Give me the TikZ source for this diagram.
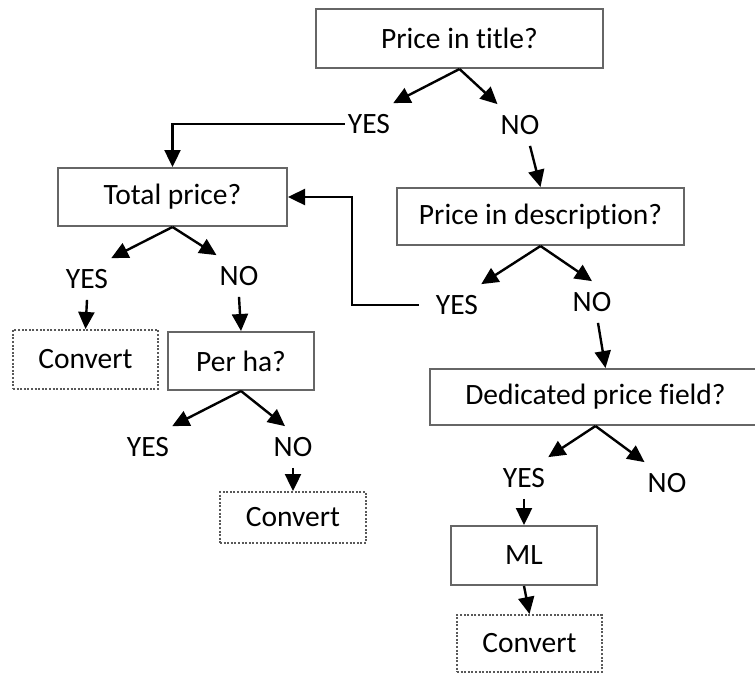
\documentclass[tikz,border=0pt]{standalone}
\usepackage{fontspec}
\setmainfont{Carlito}[Ligatures=NoCommon]
\usetikzlibrary{arrows.meta}
\begin{document}
\begin{tikzpicture}[x=1pt,y=-1pt]
    % Sumbu y dibalik (y=-1pt), posisi dihitung langsung dalam piksel gambar.
    \tikzset{
      every node/.style={font=\fontsize{29.5}{35}\selectfont},
      kotak/.style={draw=black!60,line width=2pt,inner sep=0pt},
      kotaktitik/.style={draw=black!65,line width=2pt,
        dash pattern=on 2pt off 1.6pt,inner sep=0pt},
      jawab/.style={inner xsep=3pt,inner ysep=11pt},
      panah/.style={line width=2.4pt,-{Triangle[length=17pt,width=16pt]}}}
    \useasboundingbox (0,0) rectangle (755,673);
    % Kotak pertanyaan
    \node[kotak,minimum width=287pt,minimum height=59pt] (judul) at (459.5,38.5) {Price in title?};
    \node[kotak,minimum width=229pt,minimum height=58pt] (total) at (172.5,197) {Total price?};
    \node[kotak,minimum width=287pt,minimum height=57pt] (desk) at (540.5,216.5) {Price in description?};
    \node[kotak,minimum width=146pt,minimum height=58pt] (perha) at (241,361) {Per ha?};
    \node[kotak,minimum width=331pt,minimum height=56pt] (kolom) at (595.5,397) {Dedicated price field?};
    \node[kotak,minimum width=146pt,minimum height=59pt] (ml) at (524,555.5) {ML};
    % Kotak hasil (garis titik)
    \node[kotaktitik,minimum width=145pt,minimum height=59pt] (konv1) at (85.5,359.5) {Convert};
    \node[kotaktitik,minimum width=146pt,minimum height=51pt] (konv2) at (293,517.5) {Convert};
    \node[kotaktitik,minimum width=145pt,minimum height=57pt] (konv3) at (529.5,643.5) {Convert};
    % Jawaban
    \node[jawab] (ya1) at (369,124) {YES};
    \node[jawab] (tidak1) at (520,125) {NO};
    \node[jawab] (ya2) at (457,305) {YES};
    \node[jawab] (tidak2) at (592,302) {NO};
    \node[jawab] (ya3) at (87,279) {YES};
    \node[jawab] (tidak3) at (239,276) {NO};
    \node[jawab] (ya4) at (148,447) {YES};
    \node[jawab] (tidak4) at (293,447) {NO};
    \node[jawab] (ya5) at (524,478) {YES};
    \node[jawab] (tidak5) at (667,483) {NO};
    % Cabang dari tiap pertanyaan
    \draw[panah] (judul.south) -- (ya1.north east);
    \draw[panah] (judul.south) -- (tidak1.north west);
    \draw[panah] (desk.south) -- (ya2.north east);
    \draw[panah] (desk.south) -- (tidak2.north);
    \draw[panah] (total.south) -- (ya3.north east);
    \draw[panah] (total.south) -- (tidak3.north west);
    \draw[panah] (perha.south) -- (ya4.north east);
    \draw[panah] (perha.south) -- ([xshift=-8pt]tidak4.north);
    \draw[panah] (kolom.south) -- (ya5.north east);
    \draw[panah] (kolom.south) -- (tidak5.north west);
    % Lanjutan ke kotak berikutnya
    \draw[panah] (ya1.west) -| (total.north);
    \draw[panah] ([xshift=-14pt]ya2.west) -- ++(-67,0) |- (total.east);
    \draw[panah] ([xshift=10pt]tidak1.south) -- (desk.north);
    \draw[panah] ([xshift=6pt]tidak2.south) -- ([xshift=10pt]kolom.north);
    \draw[panah] (ya3.south) -- (konv1.north);
    \draw[panah] (tidak3.south) -- (perha.north);
    \draw[panah] (tidak4.south) -- (konv2.north);
    \draw[panah] (ya5.south) -- (ml.north);
    \draw[panah] (ml.south) -- (konv3.north);
  \end{tikzpicture}
\end{document}
